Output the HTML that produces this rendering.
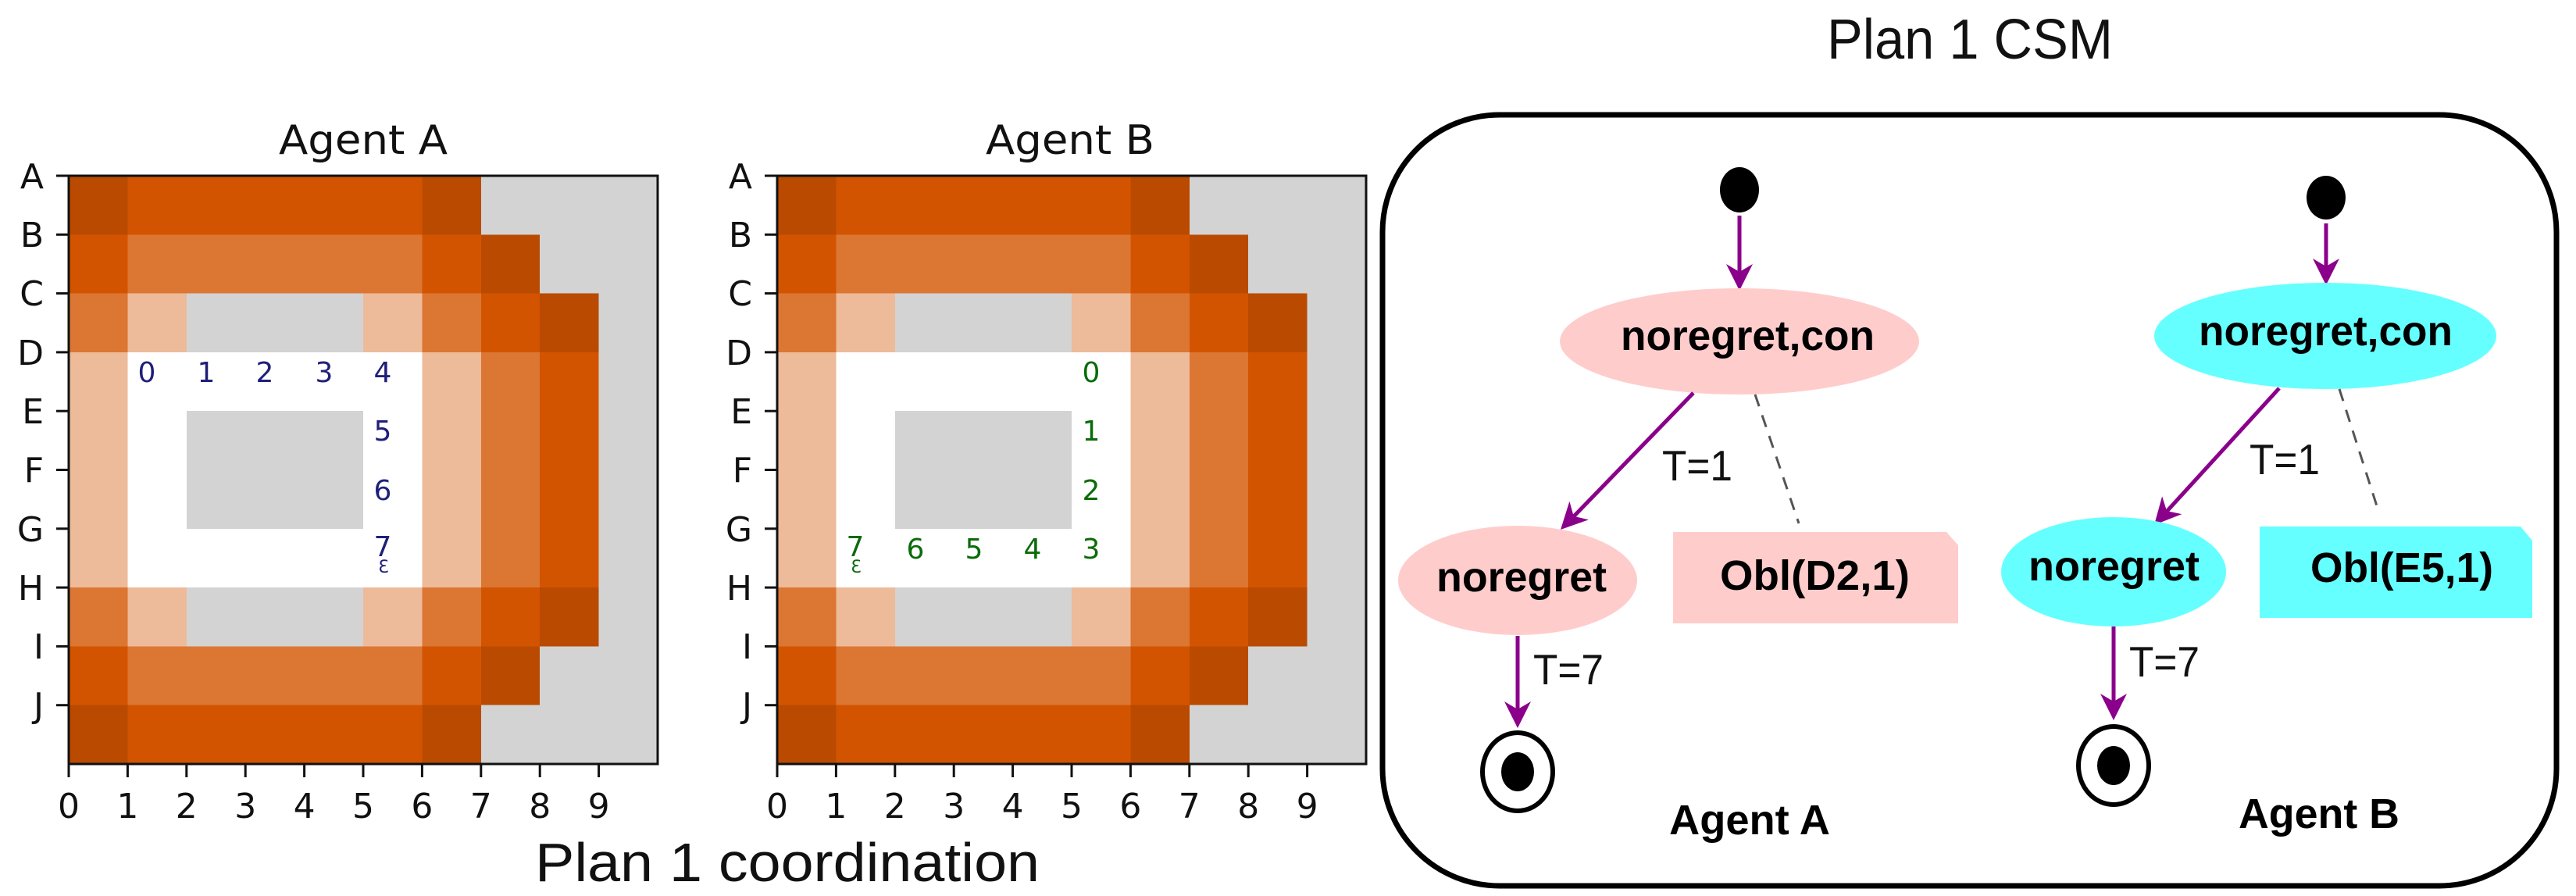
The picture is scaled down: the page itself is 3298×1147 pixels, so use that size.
<!DOCTYPE html>
<html><head><meta charset="utf-8"><style>
html,body{margin:0;padding:0;background:#fff;}
svg{display:block;}
</style></head><body>
<svg width="3298" height="1147" viewBox="0 0 3298 1147" xmlns="http://www.w3.org/2000/svg">
<defs>
<g id="grid" shape-rendering="crispEdges">
  <rect x="0" y="0" width="10" height="10" fill="#D3D3D3"/>
  <g fill="#BA4A00">
    <rect x="0" y="0" width="1" height="1"/><rect x="6" y="0" width="1" height="1"/>
    <rect x="7" y="1" width="1" height="1"/><rect x="8" y="2" width="1" height="1"/>
    <rect x="0" y="9" width="1" height="1"/><rect x="6" y="9" width="1" height="1"/>
    <rect x="7" y="8" width="1" height="1"/><rect x="8" y="7" width="1" height="1"/>
  </g>
  <g fill="#D35400">
    <rect x="1" y="0" width="5" height="1"/><rect x="0" y="1" width="1" height="1"/>
    <rect x="6" y="1" width="1" height="1"/><rect x="7" y="2" width="1" height="1"/>
    <rect x="8" y="3" width="1" height="4"/><rect x="1" y="9" width="5" height="1"/>
    <rect x="0" y="8" width="1" height="1"/><rect x="6" y="8" width="1" height="1"/>
    <rect x="7" y="7" width="1" height="1"/>
  </g>
  <g fill="#DC7633">
    <rect x="1" y="1" width="5" height="1"/><rect x="0" y="2" width="1" height="1"/>
    <rect x="6" y="2" width="1" height="1"/><rect x="7" y="3" width="1" height="4"/>
    <rect x="1" y="8" width="5" height="1"/><rect x="0" y="7" width="1" height="1"/>
    <rect x="6" y="7" width="1" height="1"/>
  </g>
  <g fill="#EDBB99">
    <rect x="1" y="2" width="1" height="1"/><rect x="5" y="2" width="1" height="1"/>
    <rect x="0" y="3" width="1" height="4"/><rect x="6" y="3" width="1" height="4"/>
    <rect x="1" y="7" width="1" height="1"/><rect x="5" y="7" width="1" height="1"/>
  </g>
  <rect x="1" y="3" width="5" height="4" fill="#FFFFFF"/>
  <rect x="2" y="4" width="3" height="2" fill="#D3D3D3"/>
</g>
<path id="ah" d="M0,0 L-34,-17 L-24,0 L-34,17 Z" fill="#8B008B"/>
</defs>

<!-- ===== Agent A grid ===== -->
<g transform="translate(88,225) scale(75.4,75.3)"><use href="#grid"/></g>
<rect x="88" y="225" width="754" height="753" fill="none" stroke="#111" stroke-width="3"/>
<!-- ===== Agent B grid ===== -->
<g transform="translate(995,225) scale(75.4,75.3)"><use href="#grid"/></g>
<rect x="995" y="225" width="754" height="753" fill="none" stroke="#111" stroke-width="3"/>

<!-- ticks -->
<g stroke="#111" stroke-width="3">
  <line x1="72" y1="225" x2="88" y2="225"/><line x1="72" y1="300.3" x2="88" y2="300.3"/>
  <line x1="72" y1="375.6" x2="88" y2="375.6"/><line x1="72" y1="450.9" x2="88" y2="450.9"/>
  <line x1="72" y1="526.2" x2="88" y2="526.2"/><line x1="72" y1="601.5" x2="88" y2="601.5"/>
  <line x1="72" y1="676.8" x2="88" y2="676.8"/><line x1="72" y1="752.1" x2="88" y2="752.1"/>
  <line x1="72" y1="827.4" x2="88" y2="827.4"/><line x1="72" y1="902.7" x2="88" y2="902.7"/>
  <line x1="979" y1="225" x2="995" y2="225"/><line x1="979" y1="300.3" x2="995" y2="300.3"/>
  <line x1="979" y1="375.6" x2="995" y2="375.6"/><line x1="979" y1="450.9" x2="995" y2="450.9"/>
  <line x1="979" y1="526.2" x2="995" y2="526.2"/><line x1="979" y1="601.5" x2="995" y2="601.5"/>
  <line x1="979" y1="676.8" x2="995" y2="676.8"/><line x1="979" y1="752.1" x2="995" y2="752.1"/>
  <line x1="979" y1="827.4" x2="995" y2="827.4"/><line x1="979" y1="902.7" x2="995" y2="902.7"/>
  <line x1="88" y1="978" x2="88" y2="995"/><line x1="163.4" y1="978" x2="163.4" y2="995"/>
  <line x1="238.8" y1="978" x2="238.8" y2="995"/><line x1="314.2" y1="978" x2="314.2" y2="995"/>
  <line x1="389.6" y1="978" x2="389.6" y2="995"/><line x1="465" y1="978" x2="465" y2="995"/>
  <line x1="540.4" y1="978" x2="540.4" y2="995"/><line x1="615.8" y1="978" x2="615.8" y2="995"/>
  <line x1="691.2" y1="978" x2="691.2" y2="995"/><line x1="766.6" y1="978" x2="766.6" y2="995"/>
  <line x1="995" y1="978" x2="995" y2="995"/><line x1="1070.4" y1="978" x2="1070.4" y2="995"/>
  <line x1="1145.8" y1="978" x2="1145.8" y2="995"/><line x1="1221.2" y1="978" x2="1221.2" y2="995"/>
  <line x1="1296.6" y1="978" x2="1296.6" y2="995"/><line x1="1372" y1="978" x2="1372" y2="995"/>
  <line x1="1447.4" y1="978" x2="1447.4" y2="995"/><line x1="1522.8" y1="978" x2="1522.8" y2="995"/>
  <line x1="1598.2" y1="978" x2="1598.2" y2="995"/><line x1="1673.6" y1="978" x2="1673.6" y2="995"/>
</g>

<g font-family="'DejaVu Sans','Liberation Sans',sans-serif" font-size="44" fill="#111" text-anchor="end">
  <text x="56" y="241">A</text><text x="56" y="316">B</text><text x="56" y="391">C</text>
  <text x="56" y="467">D</text><text x="56" y="542">E</text><text x="56" y="617">F</text>
  <text x="56" y="693">G</text><text x="56" y="768">H</text><text x="56" y="843">I</text>
  <text x="56" y="918">J</text>
  <text x="963" y="241">A</text><text x="963" y="316">B</text><text x="963" y="391">C</text>
  <text x="963" y="467">D</text><text x="963" y="542">E</text><text x="963" y="617">F</text>
  <text x="963" y="693">G</text><text x="963" y="768">H</text><text x="963" y="843">I</text>
  <text x="963" y="918">J</text>
</g>
<g font-family="'DejaVu Sans','Liberation Sans',sans-serif" font-size="44" fill="#111" text-anchor="middle">
  <text x="88" y="1047">0</text><text x="163.4" y="1047">1</text><text x="238.8" y="1047">2</text>
  <text x="314.2" y="1047">3</text><text x="389.6" y="1047">4</text><text x="465" y="1047">5</text>
  <text x="540.4" y="1047">6</text><text x="615.8" y="1047">7</text><text x="691.2" y="1047">8</text>
  <text x="766.6" y="1047">9</text>
  <text x="995" y="1047">0</text><text x="1070.4" y="1047">1</text><text x="1145.8" y="1047">2</text>
  <text x="1221.2" y="1047">3</text><text x="1296.6" y="1047">4</text><text x="1372" y="1047">5</text>
  <text x="1447.4" y="1047">6</text><text x="1522.8" y="1047">7</text><text x="1598.2" y="1047">8</text>
  <text x="1673.6" y="1047">9</text>
</g>

<!-- titles -->
<g font-family="'DejaVu Sans','Liberation Sans',sans-serif" font-size="52" fill="#111">
  <text x="357" y="197" textLength="216" lengthAdjust="spacingAndGlyphs">Agent A</text>
  <text x="1262" y="197" textLength="216" lengthAdjust="spacingAndGlyphs">Agent B</text>
</g>

<!-- path labels A -->
<g font-family="'DejaVu Sans','Liberation Sans',sans-serif" font-size="36" fill="#1F1F7A" text-anchor="middle">
  <text x="188" y="489">0</text><text x="264" y="489">1</text><text x="339" y="489">2</text>
  <text x="415" y="489">3</text><text x="490" y="489">4</text>
  <text x="490" y="564">5</text><text x="490" y="640">6</text><text x="490" y="712">7</text>
  <text x="491" y="733" font-size="22">Ɛ</text>
</g>
<!-- path labels B -->
<g font-family="'DejaVu Sans','Liberation Sans',sans-serif" font-size="36" fill="#0B6B0B" text-anchor="middle">
  <text x="1397" y="489">0</text><text x="1397" y="564">1</text><text x="1397" y="640">2</text>
  <text x="1397" y="715">3</text><text x="1322" y="715">4</text><text x="1247" y="715">5</text>
  <text x="1172" y="715">6</text><text x="1095" y="712">7</text>
  <text x="1096" y="733" font-size="22">Ɛ</text>
</g>

<text x="685" y="1128" font-family="'Liberation Sans',sans-serif" font-size="70" fill="#111" textLength="646" lengthAdjust="spacingAndGlyphs">Plan 1 coordination</text>
<text x="2339" y="75" font-family="'Liberation Sans',sans-serif" font-size="72" fill="#111" textLength="366" lengthAdjust="spacingAndGlyphs">Plan 1 CSM</text>

<!-- ===== CSM box ===== -->
<rect x="1770" y="147" width="1503" height="987" rx="150" ry="150" fill="none" stroke="#000" stroke-width="7"/>

<!-- Agent A machine -->
<ellipse cx="2227" cy="243" rx="25" ry="29" fill="#000"/>
<line x1="2227" y1="276" x2="2227" y2="350" stroke="#8B008B" stroke-width="5"/>
<use href="#ah" transform="translate(2227,372) rotate(90)"/>
<ellipse cx="2227" cy="437" rx="230" ry="68" fill="#FFCCCC"/>
<line x1="2168" y1="503" x2="2012" y2="664" stroke="#8B008B" stroke-width="5"/>
<use href="#ah" transform="translate(1998,678) rotate(134)"/>
<line x1="2247" y1="505" x2="2303" y2="670" stroke="#555" stroke-width="3" stroke-dasharray="16 12"/>
<ellipse cx="1943" cy="743" rx="153" ry="70" fill="#FFCCCC"/>
<path d="M2142,681 L2492,681 L2507,698 L2507,798 L2142,798 Z" fill="#FFCCCC"/>
<line x1="1943" y1="814" x2="1943" y2="910" stroke="#8B008B" stroke-width="5"/>
<use href="#ah" transform="translate(1943,932) rotate(90)"/>
<ellipse cx="1943" cy="988" rx="45" ry="50" fill="#fff" stroke="#000" stroke-width="6"/>
<ellipse cx="1943" cy="988" rx="21" ry="25" fill="#000"/>

<!-- Agent B machine -->
<ellipse cx="2978" cy="253" rx="25" ry="28" fill="#000"/>
<line x1="2978" y1="286" x2="2978" y2="344" stroke="#8B008B" stroke-width="5"/>
<use href="#ah" transform="translate(2978,365) rotate(90)"/>
<ellipse cx="2977" cy="430" rx="219" ry="68" fill="#66FFFF"/>
<line x1="2918" y1="497" x2="2771" y2="658" stroke="#8B008B" stroke-width="5"/>
<use href="#ah" transform="translate(2758,672) rotate(132)"/>
<line x1="2995" y1="498" x2="3046" y2="657" stroke="#555" stroke-width="3" stroke-dasharray="16 12"/>
<ellipse cx="2706" cy="732" rx="144" ry="70" fill="#66FFFF"/>
<path d="M2893,674 L3227,674 L3242,692 L3242,791 L2893,791 Z" fill="#66FFFF"/>
<line x1="2706" y1="802" x2="2706" y2="900" stroke="#8B008B" stroke-width="5"/>
<use href="#ah" transform="translate(2706,922) rotate(90)"/>
<ellipse cx="2706" cy="980" rx="45" ry="50" fill="#fff" stroke="#000" stroke-width="6"/>
<ellipse cx="2706" cy="980" rx="21" ry="25" fill="#000"/>

<!-- CSM labels -->
<g font-family="'Liberation Sans',sans-serif" font-weight="bold" font-size="54" fill="#000">
  <text x="2075" y="448" textLength="325" lengthAdjust="spacingAndGlyphs">noregret,con</text>
  <text x="1839" y="757" textLength="218" lengthAdjust="spacingAndGlyphs">noregret</text>
  <text x="2202" y="755" textLength="243" lengthAdjust="spacingAndGlyphs">Obl(D2,1)</text>
  <text x="2137" y="1068" textLength="206" lengthAdjust="spacingAndGlyphs">Agent A</text>
  <text x="2815" y="442" textLength="325" lengthAdjust="spacingAndGlyphs">noregret,con</text>
  <text x="2597" y="743" textLength="219" lengthAdjust="spacingAndGlyphs">noregret</text>
  <text x="2958" y="745" textLength="234" lengthAdjust="spacingAndGlyphs">Obl(E5,1)</text>
  <text x="2866" y="1060" textLength="206" lengthAdjust="spacingAndGlyphs">Agent B</text>
</g>
<g font-family="'Liberation Sans',sans-serif" font-size="55" fill="#111">
  <text x="2128" y="615" textLength="90" lengthAdjust="spacingAndGlyphs">T=1</text>
  <text x="1963" y="876" textLength="90" lengthAdjust="spacingAndGlyphs">T=7</text>
  <text x="2880" y="607" textLength="90" lengthAdjust="spacingAndGlyphs">T=1</text>
  <text x="2726" y="866" textLength="90" lengthAdjust="spacingAndGlyphs">T=7</text>
</g>
</svg>
</body></html>
